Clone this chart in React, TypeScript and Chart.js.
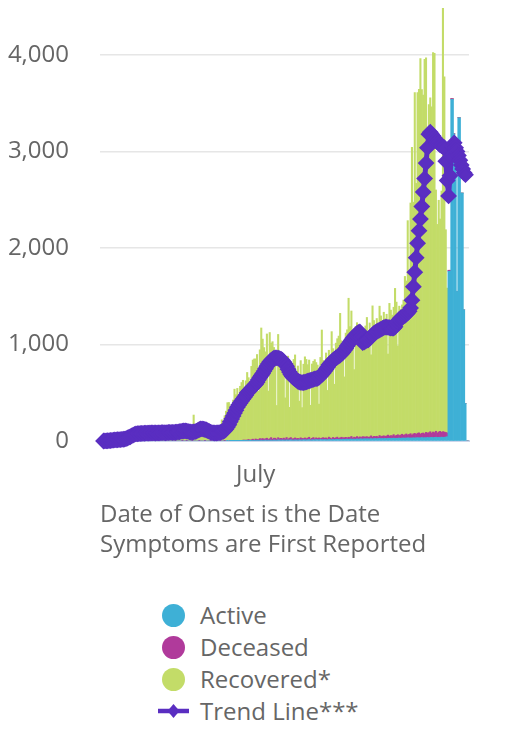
import React, { useEffect, useRef } from 'react';
import { Chart, registerables } from 'chart.js';

Chart.register(...registerables);

// ---- Data ----
const START_DATE_UTC = [2020, 2, 13]; // first category: 2020-03-13
const X_TICK_DATES = ['2020-07-01'];
const X_TICK_LABELS = ['July'];
const Y_TICKS = [0, 1000, 2000, 3000, 4000];
const SERIES_NAMES = ['Active', 'Deceased', 'Recovered*', 'Trend Line***'];

const ACTIVE = [
  0,0,0,0,0,0,0,0,0,0,
  0,0,0,0,0,0,0,0,0,0,
  0,0,0,0,0,0,0,0,0,0,
  0,0,0,0,0,0,0,0,0,0,
  0,0,0,0,0,0,0,0,0,0,
  0,0,0,0,0,0,0,0,0,0,
  0,0,0,0,0,0,0,0,0,0,
  0,0,0,0,0,0,0,0,0,0,
  0,0,0,0,0,0,0,0,0,0,
  1,0,2,1,2,3,1,2,3,2,
  4,5,3,6,5,7,4,6,8,5,
  7,9,6,8,10,7,9,11,8,10,
  9,11,8,12,10,9,13,11,10,12,
  11,9,13,10,12,14,11,10,13,12,
  10,14,12,11,15,13,12,14,16,11,
  13,15,12,16,14,13,17,15,14,16,
  15,13,17,16,14,18,15,17,19,16,
  18,16,20,17,19,21,18,20,22,19,
  21,19,23,20,22,24,21,23,25,22,
  24,22,26,23,25,27,24,26,28,25,
  27,25,29,26,28,30,27,29,31,28,
  30,28,32,29,31,33,30,32,34,31,
  33,31,35,32,34,36,33,35,37,34,
  36,34,38,35,37,39,36,38,40,37,
  39,37,41,38,40,42,45,1760,1760,3540,
  3540,3180,2990,1550,3350,3350,2570,2570,1360,390,
  0,0,
];

const DECEASED = [
  0,0,0,0,0,0,0,0,0,0,
  0,0,0,0,0,0,0,0,0,0,
  0,0,0,0,1,0,0,0,1,0,
  0,0,1,0,0,0,0,1,0,0,
  0,1,0,0,0,0,1,0,0,0,
  0,0,0,1,0,0,0,0,1,0,
  0,1,0,0,0,1,0,0,0,0,
  1,0,0,0,1,0,0,0,1,0,
  0,0,1,0,0,2,0,0,3,0,
  2,0,4,0,3,5,0,4,2,6,
  3,5,8,4,6,10,5,8,12,6,
  15,8,10,18,12,20,10,14,22,8,
  16,25,12,18,20,10,22,15,18,12,
  20,14,24,10,18,22,12,16,20,14,
  18,10,22,16,12,20,14,18,24,10,
  16,22,12,18,14,20,10,16,22,14,
  18,12,24,16,10,20,14,18,22,12,
  16,24,14,18,20,12,22,16,26,14,
  20,18,24,16,22,14,26,20,18,24,
  16,22,28,18,24,20,26,16,30,22,
  24,30,20,28,34,22,30,26,36,24,
  30,38,26,34,40,28,36,42,30,38,
  44,32,40,48,36,46,52,38,44,50,
  40,56,46,52,60,44,58,50,62,48,
  56,64,50,60,54,48,40,10,10,10,
  8,6,4,2,2,0,0,0,0,0,
  0,0,
];

const RECOVERED = [
  0,0,0,0,1,0,1,2,1,2,
  2,3,2,4,3,5,4,6,5,8,
  10,14,18,12,20,25,16,22,28,20,
  24,30,18,26,32,22,28,35,20,30,
  34,26,38,30,24,36,40,28,34,42,
  30,38,45,32,40,48,36,44,52,38,
  46,55,40,50,60,45,270,52,65,48,
  58,70,50,62,75,55,66,80,58,70,
  62,48,70,85,120,160,220,180,260,310,
  395,400,330,380,420,530,480,540,400,560,
  600,620,540,615,700,640,520,760,820,840,
  830,880,500,920,1150,1030,950,900,1080,500,
  1100,980,1010,940,900,350,1070,880,820,770,
  760,425,800,860,320,780,740,820,860,700,
  750,390,800,320,770,840,820,760,800,350,
  770,790,820,780,760,350,840,1120,800,760,
  880,500,900,860,1110,920,560,980,1020,1060,
  1290,1000,950,630,1080,1120,1440,1150,1300,1100,
  700,1150,1180,1100,1120,1050,980,1080,1150,1235,
  1100,1180,840,1360,1200,1150,1220,1180,1340,1250,
  1200,1280,1220,1260,840,1375,1300,1250,1320,1530,
  1380,920,1340,1300,1340,1400,1640,1585,2220,1700,
  2390,2980,2400,3530,2600,3530,3560,3890,3560,3500,
  3880,3880,2900,3400,3460,3380,3930,3930,2500,2160,
  2400,2200,2500,4420,3680,2100,1500,0,0,0,
  0,0,0,0,0,0,0,0,0,0,
  0,0,
];

const TREND = [
  null,null,1,2,3,4,5,6,8,10,
  12,13,14,15,16,18,19,20,25,32,
  38,45,55,62,70,74,76,78,79,80,
  80,81,82,83,82,84,85,86,85,84,
  85,86,85,87,88,87,86,88,89,90,
  90,89,91,92,93,95,97,100,103,105,
  106,104,100,96,94,93,95,98,104,112,
  120,125,126,124,120,115,108,100,93,87,
  85,84,84,85,87,90,95,102,110,125,
  145,170,200,230,260,290,320,350,375,395,
  415,435,455,475,500,515,530,545,560,575,
  590,610,635,660,680,700,725,750,775,800,
  820,835,848,858,862,862,860,855,850,838,
  820,800,775,745,715,690,670,655,645,632,
  620,612,608,606,607,610,615,620,625,630,
  635,640,645,648,650,660,675,690,705,725,
  745,765,790,805,820,835,850,862,870,880,
  892,905,920,940,960,985,1005,1025,1045,1065,
  1085,1100,1115,1125,1130,1080,1020,1025,1035,1045,
  1050,1065,1080,1100,1115,1125,1135,1145,1150,1160,
  1168,1175,1180,1180,1178,1175,1172,1170,1170,1185,
  1220,1240,1260,1275,1285,1295,1300,1315,1330,1345,
  1380,1460,1600,1750,1900,2050,2180,2300,2430,2580,
  2720,2880,3040,3180,3200,3180,3160,3140,3120,3100,
  3085,3070,3060,3050,3040,2900,2700,2540,2750,2950,
  3050,3090,3040,3000,2960,2910,2860,2820,2780,2760,
  null,null,
];

const COLORS = {
  active: '#3eb0d6',
  deceased: '#b03a9b',
  recovered: '#c3dc68',
  trend: '#5a2ec1',
  text: '#666666',
};

const CATEGORIES = ACTIVE.map((_, i) => {
  const d = new Date(Date.UTC(START_DATE_UTC[0], START_DATE_UTC[1], START_DATE_UTC[2] + i));
  return d.toISOString().slice(0, 10);
});

const FONT = "'Open Sans', sans-serif";

export default function App() {
  const canvasRef = useRef<HTMLCanvasElement | null>(null);

  useEffect(() => {
    if (!canvasRef.current) return;
    Chart.defaults.font.family = FONT;
    Chart.defaults.font.size = 24;
    Chart.defaults.color = COLORS.text;

    const chart = new Chart(canvasRef.current, {
      data: {
        labels: CATEGORIES,
        datasets: [
          {
            type: 'line',
            label: SERIES_NAMES[3],
            data: TREND,
            borderColor: COLORS.trend,
            backgroundColor: COLORS.trend,
            borderWidth: 5,
            pointStyle: 'rectRot',
            pointRadius: 7,
            pointBorderWidth: 2,
            pointBackgroundColor: COLORS.trend,
            pointBorderColor: COLORS.trend,
            tension: 0,
            order: 0,
            stack: 'trend',
            clip: false,
          } as any,
          {
            type: 'bar',
            label: SERIES_NAMES[0],
            data: ACTIVE,
            backgroundColor: COLORS.active,
            borderWidth: 0,
            categoryPercentage: 1,
            barPercentage: 1,
            order: 1,
            stack: 'cases',
          },
          {
            type: 'bar',
            label: SERIES_NAMES[1],
            data: DECEASED,
            backgroundColor: COLORS.deceased,
            borderWidth: 0,
            categoryPercentage: 1,
            barPercentage: 1,
            order: 1,
            stack: 'cases',
          },
          {
            type: 'bar',
            label: SERIES_NAMES[2],
            data: RECOVERED,
            backgroundColor: COLORS.recovered,
            borderWidth: 0,
            categoryPercentage: 1,
            barPercentage: 1,
            order: 1,
            stack: 'cases',
          },
        ],
      },
      options: {
        animation: false,
        responsive: true,
        maintainAspectRatio: false,
        layout: { autoPadding: false, padding: { left: 0, right: 30, top: 0, bottom: 0 } },
        plugins: {
          legend: { display: false },
          tooltip: { enabled: false },
        },
        scales: {
          x: {
            stacked: true,
            grid: { display: false, drawTicks: false },
            border: { display: true, color: '#ccd6eb', width: 2 },
            ticks: {
              autoSkip: false,
              maxRotation: 0,
              minRotation: 0,
              padding: 20,
              color: COLORS.text,
              font: { size: 24, family: FONT },
              callback: (_v: any, i: number) => {
                const k = X_TICK_DATES.indexOf(CATEGORIES[i]);
                return k >= 0 ? X_TICK_LABELS[k] : '';
              },
            },
            title: {
              display: true,
              text: ['Date of Onset is the Date', 'Symptoms are First Reported'],
              align: 'start',
              color: COLORS.text,
              font: { size: 24, family: FONT, lineHeight: 1.25 },
              padding: { top: 0, bottom: 0 },
            },
            afterFit: (s: any) => {
              s.height = 118.9;
              s.paddingLeft = 0;
              s.paddingRight = 0;
            },
          },
          y: {
            stacked: true,
            min: 0,
            max: 4487,
            grid: { color: '#e6e6e6', lineWidth: 1.5, drawTicks: false },
            border: { display: false },
            ticks: {
              padding: 31,
              color: COLORS.text,
              font: { size: 24, family: FONT },
              callback: (v: any) => Number(v).toLocaleString('en-US'),
            },
            afterBuildTicks: (s: any) => {
              s.ticks = Y_TICKS.map((v) => ({ value: v }));
            },
            afterFit: (s: any) => {
              s.width = 92;
              s.paddingTop = 0;
              s.paddingBottom = 0;
            },
          },
        },
      } as any,
    });
    return () => chart.destroy();
  }, []);

  const legendColors = [COLORS.active, COLORS.deceased, COLORS.recovered];

  return (
    <div style={{ position: 'relative', width: 491, height: 725 }}>
      <div style={{ position: 'relative', width: 491, height: 552 }}>
        <canvas ref={canvasRef} />
      </div>
      <div style={{ position: 'absolute', left: 150, top: 591, fontFamily: FONT }}>
        {SERIES_NAMES.map((name, i) => (
          <div key={name} style={{ display: 'flex', alignItems: 'center', height: 32 }}>
            <div style={{ width: 31, height: 32, display: 'flex', alignItems: 'center', justifyContent: 'center' }}>
              {i < 3 ? (
                <div style={{ width: 23, height: 23, borderRadius: '50%', background: legendColors[i] }} />
              ) : (
                <svg width={31} height={16} viewBox="0 0 31 16">
                  <line x1={0} y1={8} x2={31} y2={8} stroke={COLORS.trend} strokeWidth={4.5} />
                  <polygon points="15.5,1 21.5,8 15.5,15 9.5,8" fill={COLORS.trend} />
                </svg>
              )}
            </div>
            <span style={{ marginLeft: 11, fontSize: 24, lineHeight: '32px', color: COLORS.text, whiteSpace: 'nowrap' }}>
              {name}
            </span>
          </div>
        ))}
      </div>
    </div>
  );
}
